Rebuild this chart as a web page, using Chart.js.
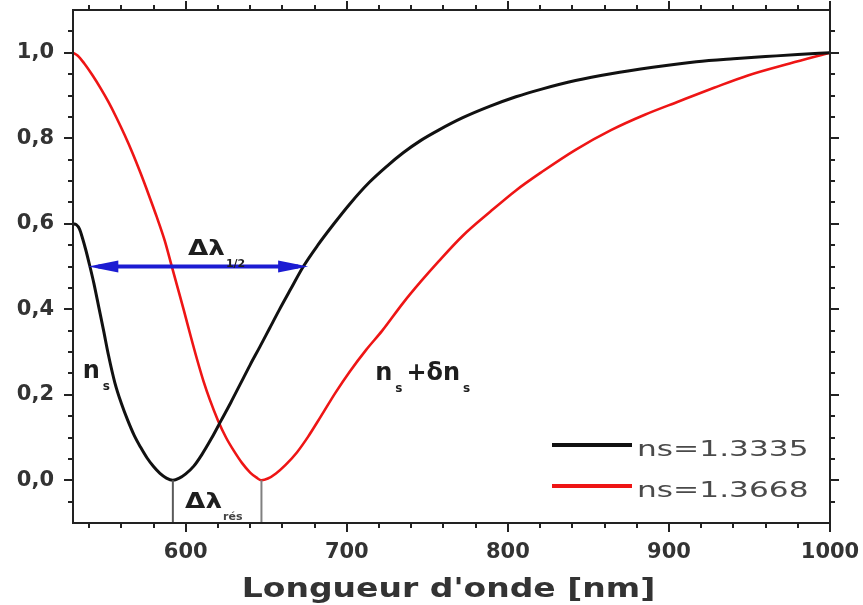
<!DOCTYPE html>
<html>
<head>
<meta charset="utf-8">
<script src="https://cdn.jsdelivr.net/npm/chart.js@4.4.1/dist/chart.umd.min.js"></script>
<style>
  html, body { margin: 0; padding: 0; background: #fff; }
  #wrap { width: 863px; height: 605px; }
</style>
</head>
<body>
<div id="wrap"><canvas id="myChart"></canvas></div>
<script>
// wavelength (nm) and normalized reflectance
var blackNm = [530, 532, 534, 536, 538, 540, 543, 546, 549, 552, 556, 560, 564, 568, 572, 576, 580, 584, 588, 592,
  596, 600, 605, 610, 616, 622, 628, 634, 640, 646, 652, 658, 665, 673, 682, 692, 702, 714, 725, 735, 746, 757,
  772, 789, 805, 821, 842, 864, 890, 917, 940, 960, 980, 1000];
var blackR = [0.600, 0.598, 0.588, 0.565, 0.538, 0.508, 0.460, 0.405, 0.350, 0.293, 0.228, 0.180, 0.140, 0.105,
  0.077, 0.052, 0.032, 0.016, 0.005, 0.000, 0.005, 0.015, 0.033, 0.060, 0.098, 0.140, 0.182, 0.226, 0.270, 0.312,
  0.355, 0.398, 0.446, 0.500, 0.550, 0.600, 0.647, 0.697, 0.735, 0.766, 0.795, 0.819, 0.848, 0.875, 0.897, 0.915,
  0.935, 0.951, 0.966, 0.979, 0.986, 0.991, 0.996, 1.000];

var redNm = [530, 533, 537, 542, 547, 552, 557, 562, 567, 572, 577, 582, 587, 591, 595, 599, 603, 607, 611, 615,
  620, 625, 630, 635, 640, 644, 647, 651, 656, 662, 669, 676, 684, 693, 702, 712, 722, 735, 746, 757, 772, 789,
  805, 821, 842, 864, 885, 906, 928, 949, 975, 1000];
var redR = [1.000, 0.993, 0.975, 0.948, 0.918, 0.885, 0.848, 0.808, 0.765, 0.718, 0.668, 0.616, 0.560, 0.505,
  0.450, 0.395, 0.338, 0.283, 0.232, 0.188, 0.140, 0.100, 0.068, 0.040, 0.018, 0.006, 0.000, 0.004, 0.016, 0.036,
  0.065, 0.102, 0.150, 0.205, 0.255, 0.305, 0.350, 0.415, 0.465, 0.512, 0.572, 0.628, 0.678, 0.721, 0.773, 0.819,
  0.855, 0.886, 0.918, 0.947, 0.975, 1.000];

var seriesNames = ["ns=1.3335", "ns=1.3668"];
var seriesColors = ["#111111", "#ee1515"];

var xTickValues = [600, 700, 800, 900, 1000];
var yTickValues = [0, 0.2, 0.4, 0.6, 0.8, 1.0];

var halfWidthNm = [539.5, 676];   // ends of the Δλ1/2 arrow, at R = 0.5
var resonanceNm = [592, 647];     // minima marked for Δλrés

function pairs(xs, ys) {
  return xs.map(function (v, i) {
    return { x: v, y: ys[i] };
  });
}

// text stretched horizontally like the scanned figure
function stretchText(ctx, s, px, py, font, sx, color) {
  ctx.save();
  ctx.font = font;
  ctx.fillStyle = color;
  ctx.textAlign = "left";
  ctx.textBaseline = "alphabetic";
  ctx.translate(px, py);
  ctx.scale(sx, 1);
  ctx.fillText(s, 0, 0);
  var w = ctx.measureText(s).width * sx;
  ctx.restore();
  return w;
}

function seg(ctx, x1, y1, x2, y2) {
  ctx.beginPath();
  ctx.moveTo(x1, y1);
  ctx.lineTo(x2, y2);
  ctx.stroke();
}

var big = "bold 24px 'DejaVu Sans'";
var small = "bold 12px 'DejaVu Sans'";
var ink = "#1e1e1e";

var framePlugin = {
  id: "frame",
  afterDatasetsDraw: function (chart) {
    var ctx = chart.ctx;
    var a = chart.chartArea;
    var x = chart.scales.x;
    var y = chart.scales.y;

    ctx.save();

    // resonance markers
    ctx.lineWidth = 2;
    ctx.strokeStyle = "#5a5a5a";
    seg(ctx, x.getPixelForValue(resonanceNm[0]), y.getPixelForValue(0), x.getPixelForValue(resonanceNm[0]), a.bottom);
    ctx.strokeStyle = "#808080";
    seg(ctx, x.getPixelForValue(resonanceNm[1]), y.getPixelForValue(0), x.getPixelForValue(resonanceNm[1]), a.bottom);

    // blue double arrow at half depth
    var ya = y.getPixelForValue(0.5);
    var xa = x.getPixelForValue(halfWidthNm[0]);
    var xb = x.getPixelForValue(halfWidthNm[1]);
    ctx.strokeStyle = "#1c1cd2";
    ctx.fillStyle = "#1c1cd2";
    ctx.lineWidth = 4;
    seg(ctx, xa + 10, ya, xb - 10, ya);
    [[xa, 1], [xb, -1]].forEach(function (h) {
      ctx.beginPath();
      ctx.moveTo(h[0], ya);
      ctx.lineTo(h[0] + h[1] * 30, ya - 6);
      ctx.lineTo(h[0] + h[1] * 30, ya + 6);
      ctx.closePath();
      ctx.fill();
    });

    // frame and ticks on all four sides
    ctx.strokeStyle = "#222";
    ctx.lineWidth = 2;
    ctx.strokeRect(a.left, a.top, a.right - a.left, a.bottom - a.top);
    for (var v = 540; v <= 1000; v += 20) {
      var px = Math.round(x.getPixelForValue(v));
      var len = v % 100 === 0 ? 9 : 5;
      seg(ctx, px, a.bottom, px, a.bottom + len);
      seg(ctx, px, a.top, px, a.top - len);
    }
    for (var k = -1; k <= 21; k++) {
      var py = Math.round(y.getPixelForValue(k * 0.05));
      var l2 = k % 4 === 0 ? 9 : 5;
      seg(ctx, a.left, py, a.left - l2, py);
      seg(ctx, a.right, py, a.right + l2, py);
    }

    // annotations
    var w;
    var nx = x.getPixelForValue(536), ny = y.getPixelForValue(0.239);
    w = stretchText(ctx, "n", nx, ny, big, 1.0, ink);
    stretchText(ctx, "s", nx + w + 3, ny + 12, small, 1.0, ink);

    var mx = x.getPixelForValue(717.6), my = y.getPixelForValue(0.234);
    w = stretchText(ctx, "n", mx, my, big, 1.0, ink);
    mx += w + 3;
    w = stretchText(ctx, "s", mx, my + 12, small, 1.0, ink);
    mx += w + 4;
    w = stretchText(ctx, "+δn", mx, my, big, 1.0, ink);
    stretchText(ctx, "s", mx + w + 3, my + 12, small, 1.0, ink);

    var dx = x.getPixelForValue(601.4), dy = y.getPixelForValue(0.526);
    w = stretchText(ctx, "Δλ", dx, dy, "bold 21px 'DejaVu Sans'", 1.25, ink);
    stretchText(ctx, "1/2", dx + w + 1, dy + 12, "bold 11px 'DejaVu Sans'", 1.0, ink);

    var rx = x.getPixelForValue(599.6), ry = y.getPixelForValue(-0.064);
    w = stretchText(ctx, "Δλ", rx, ry, "bold 21px 'DejaVu Sans'", 1.25, ink);
    stretchText(ctx, "rés", rx + w + 1, ry + 12, "bold 11px 'DejaVu Sans'", 1.0, "#444");

    // legend inside the plot, lower right
    var lx = a.left + 479, ly = a.top + 435;
    chart.data.datasets.forEach(function (ds, i) {
      var yy = ly + i * 41;
      ctx.strokeStyle = ds.borderColor;
      ctx.lineWidth = 4;
      seg(ctx, lx, yy, lx + 80, yy);
      stretchText(ctx, ds.label, lx + 85, yy + 11, "22px 'DejaVu Sans'", 1.42, "#4a4a4a");
    });

    // axis title
    ctx.save();
    ctx.font = "bold 26px 'DejaVu Sans'";
    var tw = ctx.measureText("Longueur d'onde [nm]").width * 1.27;
    ctx.restore();
    stretchText(ctx, "Longueur d'onde [nm]", (a.left + a.right) / 2 - tw / 2 - 3, 597, "bold 26px 'DejaVu Sans'", 1.27, "#333");

    ctx.restore();
  }
};

var tickFont = { family: "DejaVu Sans", weight: "bold", size: 21 };

new Chart("myChart", {
  type: "line",
  data: {
    datasets: [
      {
        label: seriesNames[0],
        data: pairs(blackNm, blackR),
        borderColor: seriesColors[0],
        borderWidth: 3,
        pointRadius: 0,
        cubicInterpolationMode: "monotone",
        fill: false,
      },
      {
        label: seriesNames[1],
        data: pairs(redNm, redR),
        borderColor: seriesColors[1],
        borderWidth: 2.6,
        pointRadius: 0,
        cubicInterpolationMode: "monotone",
        fill: false,
      },
    ],
  },
  options: {
    responsive: true,
    maintainAspectRatio: false,
    animation: false,
    layout: {
      padding: { top: 10, right: 33, left: 0, bottom: 0 },
    },
    plugins: {
      legend: { display: false },
      tooltip: { enabled: false },
    },
    scales: {
      x: {
        type: "linear",
        min: 530,
        max: 1000,
        afterBuildTicks: function (s) {
          s.ticks = xTickValues.map(function (v) { return { value: v }; });
        },
        afterFit: function (s) {
          s.height = 82;
          s.paddingLeft = 0;
          s.paddingRight = 0;
        },
        grid: { display: false },
        border: { display: false },
        ticks: {
          color: "#333",
          font: tickFont,
          padding: 9,
          maxRotation: 0,
          autoSkip: false,
          callback: function (v) { return String(v); },
        },
      },
      y: {
        min: -0.1,
        max: 1.1,
        afterBuildTicks: function (s) {
          s.ticks = yTickValues.map(function (v) { return { value: v }; });
        },
        afterFit: function (s) {
          s.width = 73;
          s.paddingTop = 0;
          s.paddingBottom = 0;
        },
        grid: { display: false },
        border: { display: false },
        ticks: {
          color: "#333",
          font: tickFont,
          padding: 11,
          autoSkip: false,
          callback: function (v) { return v.toFixed(1).replace(".", ","); },
        },
      },
    },
  },
  plugins: [framePlugin],
});
</script>
</body>
</html>
